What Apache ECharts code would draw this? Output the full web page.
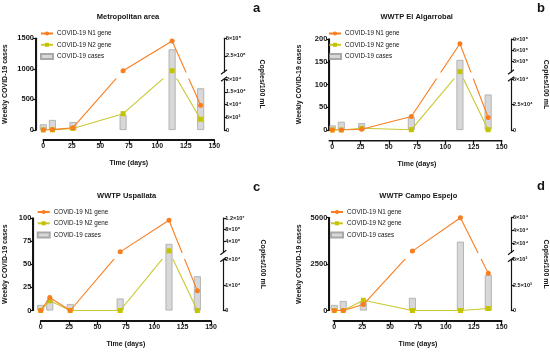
<!DOCTYPE html>
<html><head><meta charset="utf-8">
<script src="https://cdn.jsdelivr.net/npm/echarts@6/dist/echarts.min.js"></script>
<style>html,body{margin:0;padding:0;background:#fff}#c{width:550px;height:353px}</style>
</head><body><div id="c"></div>
<script>
// ---------- DATA ----------
const days = [0, 8, 26, 70, 113, 138];
const xTicks = [0, 25, 50, 75, 100, 125, 150];

// Panel a: Metropolitan area
const casesA = [93, 164, 131, 245, 1320, 682];
const n1A = [100, 150, 900, 39000, 462000, 9700];
const n2A = [0, 60, 600, 6400, 39000, 4200];
const leftTicksA = [0, 500, 1000, 1500];
const lowTicksA = [0, 5000, 10000, 15000, 20000];
const upTicksA = [250000, 500000];
const upMinA = 20000;

// Panel b: WWTP El Algarrobal
const casesB = [10, 18, 15, 28, 154, 78];
const n1B = [0, 0, 700, 13300, 7730000, 12300];
const n2B = [0, 0, 1700, 300, 140000, 300];
const leftTicksB = [0, 50, 100, 150, 200];
const lowTicksB = [0, 25000, 50000];
const upTicksB = [3000000, 6000000, 9000000];
const upMinB = 50000;

// Panel c: WWTP Uspallata
const casesC = [6, 11, 7, 13, 72, 37];
const n1C = [0, 5100, 0, 250000, 11200000, 7700];
const n2C = [0, 3800, 0, 0, 600000, 0];
const leftTicksC = [0, 25, 50, 75, 100];
const lowTicksC = [0, 10000, 20000];
const upTicksC = [4000000, 8000000, 12000000];
const upMinC = 20000;

// Panel d: WWTP Campo Espejo
const casesD = [297, 513, 430, 680, 3710, 1917];
const n1D = [0, 0, 585, 7200, 60000, 3640];
const n2D = [0, 0, 1000, 0, 0, 195];
const leftTicksD = [0, 2500, 5000];
const lowTicksD = [0, 2500, 5000];
const upTicksD = [20000, 40000, 60000];
const upMinD = 5000;

const NAME_N1 = 'COVID-19 N1 gene', NAME_N2 = 'COVID-19 N2 gene', NAME_C = 'COVID-19 cases';

// ---------- LAYOUT ----------
const panels = [
  {title:'Metropolitan area', letter:'a', cases:casesA, n1:n1A, n2:n2A, leftTicks:leftTicksA, lowTicks:lowTicksA, upTicks:upTicksA, upMin:upMinA,
   L:{x0:43.3, x1:214.3, T:38.3, B:130, lx:36, rx:224, xy:140, xs:43.3, tx:128, ty:13, lgx:40, lgy:30.5, lnGap:27, rnGap:34, letX:253, letY:2}},
  {title:'WWTP El Algarrobal', letter:'b', cases:casesB, n1:n1B, n2:n2B, leftTicks:leftTicksB, lowTicks:lowTicksB, upTicks:upTicksB, upMin:upMinB,
   L:{x0:332.3, x1:501.7, T:39, B:130, lx:329.3, rx:511, xy:140.7, xs:329.3, tx:416.7, ty:13, lgx:328, lgy:30.5, lnGap:27, rnGap:31, letX:537, letY:2}},
  {title:'WWTP Uspallata', letter:'c', cases:casesC, n1:n1C, n2:n2C, leftTicks:leftTicksC, lowTicks:lowTicksC, upTicks:upTicksC, upMin:upMinC,
   L:{x0:40.7, x1:211, T:218, B:310.5, lx:33.3, rx:223.3, xy:321, xs:40.7, tx:126.7, ty:192, lgx:36.7, lgy:209, lnGap:25, rnGap:36, letX:253, letY:181}},
  {title:'WWTP Campo Espejo', letter:'d', cases:casesD, n1:n1D, n2:n2D, leftTicks:leftTicksD, lowTicks:lowTicksD, upTicks:upTicksD, upMin:upMinD,
   L:{x0:334.3, x1:501.7, T:217.7, B:310.5, lx:329.3, rx:511, xy:321, xs:333.3, tx:418.3, ty:192, lgx:330, lgy:209, lnGap:27, rnGap:31, letX:537, letY:180}}
];

const H_LOW = 51, GAP = 7;
const FONT = 'Liberation Sans';
const INK = '#141414';
const ORANGE = '#FA7D1E', GREEN = '#C3C300', GREEN_LINE = '#C8C832';

function sci(v) {
  if (v === 0) return '0';
  const e = Math.floor(Math.log10(v) + 1e-9);
  const m = +(v / Math.pow(10, e)).toFixed(2);
  const sup = '⁰¹²³⁴⁵⁶⁷⁸⁹';
  return m + '×10' + String(e).split('').map(c => sup[+c]).join('');
}

// broken-axis transform: height (in segment units) above plot bottom
function brokenHeight(v, p, Hup) {
  const lowMax = p.lowTicks[p.lowTicks.length - 1];
  const upMax = p.upTicks[p.upTicks.length - 1];
  if (v <= lowMax) return v / lowMax * H_LOW;
  return H_LOW + GAP + (v - p.upMin) / (upMax - p.upMin) * Hup;
}

const grid = [], xAxis = [], yAxis = [], series = [], legend = [], title = [], graphicEls = [];
const mkLine = () => ({show: true, onZero: false, lineStyle: {color: INK, width: 1.2}});
const mkTick = (len, extra) => Object.assign({show: true, inside: false, length: len, lineStyle: {color: INK, width: 1.2}}, extra || {});
const hidden = (gi, min, max, pos) => ({gridIndex: gi, type: 'value', min, max, show: false, position: pos});
const nameStyle = () => ({fontSize: 7, fontWeight: 'bold', fontFamily: FONT, color: INK});
const decoLine = (x1, y1, x2, y2) => ({type: 'line', shape: {x1, y1, x2, y2}, style: {stroke: INK, lineWidth: 1.2}, silent: true, zlevel: 1, z: 100});
const decoRect = (x, y, width, height) => ({type: 'rect', shape: {x, y, width, height}, style: {fill: INK}, silent: true, zlevel: 1, z: 100});

panels.forEach((p, k) => {
  const L = p.L;
  const W = L.x1 - L.x0;
  const H = L.B - L.T;
  const Hup = H - H_LOW - GAP;
  const leftMax = p.leftTicks[p.leftTicks.length - 1];
  const lowMax = p.lowTicks[p.lowTicks.length - 1];
  const upMax = p.upTicks[p.upTicks.length - 1];
  const xMin = xTicks[0], xMax = xTicks[xTicks.length - 1];
  // grids: g main (bars), g+1 low right, g+2 up right, g+3 visible left axis, g+4 right name, g+5 visible x axis
  const g = k * 6;

  grid.push({left: L.x0, top: L.T, width: W, height: H, outerBoundsMode: 'none'});
  grid.push({left: L.x0, top: L.B - H_LOW, width: W, height: H_LOW, outerBoundsMode: 'none'});
  grid.push({left: L.x0, top: L.T, width: W, height: Hup, outerBoundsMode: 'none'});
  grid.push({left: L.lx, top: L.T, width: W, height: H, outerBoundsMode: 'none'});
  grid.push({left: L.x0, top: L.T, width: W, height: H, outerBoundsMode: 'none'});
  grid.push({left: L.x0, top: L.xy - H, width: W, height: H, outerBoundsMode: 'none'});

  for (let j = 0; j < 5; j++) xAxis.push(hidden(g + j, xMin, xMax, 'bottom'));
  xAxis.push({gridIndex: g + 5, type: 'value', min: xMin, max: xMax, interval: xTicks[1] - xTicks[0],
    axisLine: mkLine(), axisTick: mkTick(4), splitLine: {show: false},
    axisLabel: {fontSize: 7, fontWeight: 'bold', fontFamily: FONT, color: INK, margin: 3, formatter: v => String(v)},
    name: 'Time (days)', nameLocation: 'middle', nameGap: 20, nameTextStyle: nameStyle()});

  yAxis.push(hidden(g, 0, leftMax, 'left'));
  yAxis.push({gridIndex: g + 1, type: 'value', position: 'right', min: 0, max: lowMax, offset: L.rx - L.x1,
    axisLine: mkLine(), splitLine: {show: false}, axisTick: mkTick(3, {customValues: p.lowTicks}),
    axisLabel: {fontSize: 5.5, fontWeight: 'bold', fontFamily: FONT, color: INK, margin: 2, formatter: sci, customValues: p.lowTicks}});
  yAxis.push({gridIndex: g + 2, type: 'value', position: 'right', min: p.upMin, max: upMax, offset: L.rx - L.x1,
    axisLine: mkLine(), splitLine: {show: false}, axisTick: mkTick(3, {customValues: p.upTicks}),
    axisLabel: {fontSize: 5.5, fontWeight: 'bold', fontFamily: FONT, color: INK, margin: 2, formatter: sci, customValues: p.upTicks}});
  yAxis.push({gridIndex: g + 3, type: 'value', position: 'left', min: 0, max: leftMax,
    interval: p.leftTicks[1] - p.leftTicks[0], axisLine: mkLine(), axisTick: mkTick(3),
    splitLine: {show: false}, axisLabel: {fontSize: 7.5, fontWeight: 'bold', fontFamily: FONT, color: INK, margin: 2, formatter: v => String(v)},
    name: 'Weekly COVID-19 cases', nameLocation: 'middle', nameGap: L.lnGap, nameTextStyle: nameStyle()});
  yAxis.push({gridIndex: g + 4, type: 'value', position: 'right', min: 0, max: 1, offset: L.rx - L.x1,
    axisLine: {show: false}, axisTick: {show: false}, axisLabel: {show: false}, splitLine: {show: false},
    name: 'Copies/100 mL', nameLocation: 'middle', nameRotate: -90, nameGap: L.rnGap, nameTextStyle: nameStyle()});
  yAxis.push(hidden(g + 5, 0, 1, 'left'));

  series.push({type: 'bar', name: NAME_C, xAxisIndex: g, yAxisIndex: g, barWidth: 7, clip: false,
    data: days.map((d, i) => [d, p.cases[i]]),
    itemStyle: {color: '#D8D8D8', borderColor: '#A8A8A8', borderWidth: 0.8}, z: 1});

  const toLow = v => brokenHeight(v, p, Hup) / H_LOW * lowMax;
  const toUp = v => p.upMin + (brokenHeight(v, p, Hup) - H_LOW - GAP) / Hup * (upMax - p.upMin);
  const lineSeries = (name, vals, sym, col, lcol, z) => {
    [[g + 1, toLow], [g + 2, toUp]].forEach(([ai, f]) => {
      series.push({type: 'line', name, xAxisIndex: ai, yAxisIndex: ai, clip: true,
        data: days.map((d, i) => [d, f(vals[i])]),
        symbol: sym, symbolSize: 5, showSymbol: true, showAllSymbol: true,
        itemStyle: {color: col}, lineStyle: {color: lcol, width: 1.1}, z});
    });
  };
  lineSeries(NAME_N2, p.n2, 'rect', GREEN, GREEN_LINE, 3);
  lineSeries(NAME_N1, p.n1, 'circle', ORANGE, ORANGE, 4);

  legend.push({data: [NAME_N1, NAME_N2, {name: NAME_C, icon: 'rect'}], orient: 'vertical', left: L.lgx, top: L.lgy,
    itemWidth: 12, itemHeight: 5, itemGap: 5.3, padding: 0, selectedMode: false,
    textStyle: {fontSize: 6.3, fontFamily: FONT, color: INK, padding: [0, 0, 0, -1]}});

  title.push({text: p.title, left: L.tx, top: L.ty, textAlign: 'center', padding: 0,
    textStyle: {fontSize: 7.5, fontWeight: 'bold', fontFamily: FONT, color: INK}});
  title.push({text: p.letter, left: L.letX, top: L.letY, padding: 0,
    textStyle: {fontSize: 13, fontWeight: 'bold', fontFamily: FONT, color: INK}});

  // axis baselines (left and bottom) as thin filled bars at the axes' layout positions
  graphicEls.push(decoRect(Math.round(L.lx) - 1, L.T - 0.6, 1.4, H + 1.2));
  graphicEls.push(decoRect(L.xs - 0.6, Math.round(L.xy) - 1, L.x1 - L.xs + 1.2, 1.4));
  // break marks on right axis
  [L.T + Hup, L.B - H_LOW].forEach(y => graphicEls.push(decoLine(L.rx - 3, y + 2.2, L.rx + 3, y - 2.2)));
});

const chart = echarts.init(document.getElementById('c'), null, {renderer: 'canvas'});
chart.setOption({animation: false, backgroundColor: '#fff', grid, xAxis, yAxis, series, legend, title,
  graphic: {elements: graphicEls}});
</script></body></html>
